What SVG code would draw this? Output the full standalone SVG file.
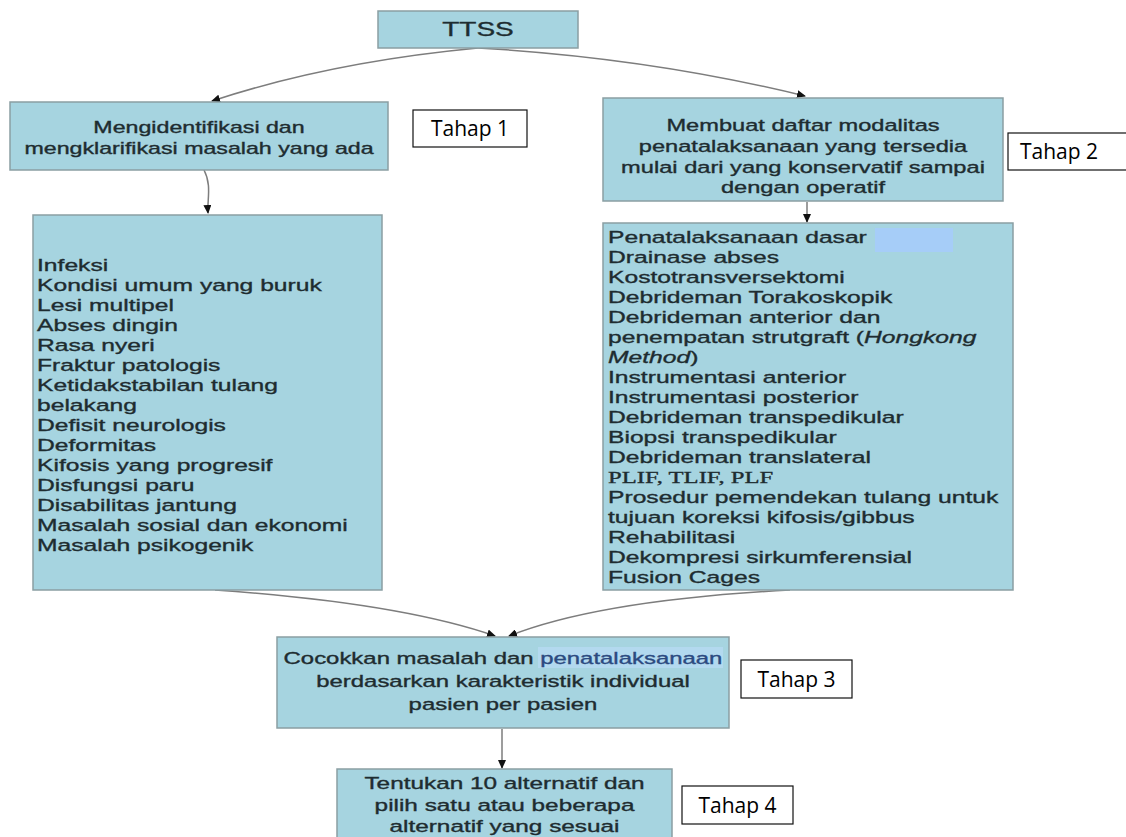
<svg xmlns="http://www.w3.org/2000/svg" width="1126" height="837" viewBox="0 0 1126 837">
<style>
.box{fill:#a6d4e0;stroke:#8a9ea3;stroke-width:1.5}
.t{font-family:"Liberation Sans",Arial,sans-serif;fill:#1e2c30;stroke:#1e2c30;stroke-width:0.35}
.tag{fill:#fff;stroke:#111;stroke-width:1.2}
.tagt{font-family:"Open Sans","Liberation Sans",sans-serif;font-size:21px;fill:#000}
.conn{fill:none;stroke:#7d7d7d;stroke-width:1.5;marker-end:url(#ah)}
</style>
<defs>
<marker id="ah" markerUnits="userSpaceOnUse" markerWidth="9" markerHeight="8" refX="8" refY="4" orient="auto">
<path d="M0,0 L9,4 L0,8 z" fill="#111"/>
</marker>
</defs>
<rect width="1126" height="837" fill="#fff"/>
<g id="connectors">
<path class="conn" d="M478,48 Q330,62 212,101"/>
<path class="conn" d="M478,48 Q650,58 805,96"/>
<path class="conn" d="M204,170 C212,185 207,200 208,213"/>
<path class="conn" d="M807,202 L807,222"/>
<path class="conn" d="M215,590 Q400,603 495,636"/>
<path class="conn" d="M790,590 Q600,600 509,636"/>
<path class="conn" d="M502,729 L502,768"/>
</g>
<g id="ttss">
<rect class="box" x="378" y="11" width="200" height="37"/>
<text class="t" font-size="20" text-anchor="middle" transform="translate(478,0) scale(1.4,1)" x="0" y="36">TTSS</text>
</g>
<g id="step1">
<rect class="box" x="10" y="102" width="378" height="68"/>
<text class="t" font-size="16" text-anchor="middle" transform="translate(199,0) scale(1.45,1)"><tspan x="0" y="133">Mengidentifikasi dan</tspan><tspan x="0" y="154">mengklarifikasi masalah yang ada</tspan></text>
</g>
<g id="tahap1">
<rect class="tag" x="413" y="110" width="114" height="37"/>
<text class="tagt" x="470" y="136" text-anchor="middle">Tahap 1</text>
</g>
<g id="step2">
<rect class="box" x="603" y="98" width="400" height="103"/>
<text class="t" font-size="16.3" text-anchor="middle" transform="translate(803,0) scale(1.45,1)"><tspan x="0" y="131">Membuat daftar modalitas</tspan><tspan x="0" y="152">penatalaksanaan yang tersedia</tspan><tspan x="0" y="173">mulai dari yang konservatif sampai</tspan><tspan x="0" y="193">dengan operatif</tspan></text>
</g>
<g id="tahap2">
<rect class="tag" x="1008" y="133" width="130" height="37"/>
<text class="tagt" x="1020" y="159">Tahap 2</text>
</g>
<g id="problems">
<rect class="box" x="33" y="215" width="349" height="375"/>
<text class="t" font-size="17" transform="translate(37,0) scale(1.45,1)">
<tspan x="0" y="271">Infeksi</tspan>
<tspan x="0" y="291">Kondisi umum yang buruk</tspan>
<tspan x="0" y="311">Lesi multipel</tspan>
<tspan x="0" y="331">Abses dingin</tspan>
<tspan x="0" y="351">Rasa nyeri</tspan>
<tspan x="0" y="371">Fraktur patologis</tspan>
<tspan x="0" y="391">Ketidakstabilan tulang</tspan>
<tspan x="0" y="411">belakang</tspan>
<tspan x="0" y="431">Defisit neurologis</tspan>
<tspan x="0" y="451">Deformitas</tspan>
<tspan x="0" y="471">Kifosis yang progresif</tspan>
<tspan x="0" y="491">Disfungsi paru</tspan>
<tspan x="0" y="511">Disabilitas jantung</tspan>
<tspan x="0" y="531">Masalah sosial dan ekonomi</tspan>
<tspan x="0" y="551">Masalah psikogenik</tspan>
</text>
</g>
<g id="modalities">
<rect class="box" x="603" y="223" width="410" height="367"/>
<rect x="875" y="228" width="78" height="24" fill="#a6cdf8"/>
<text class="t" font-size="17" transform="translate(608,0) scale(1.45,1)">
<tspan x="0" y="243">Penatalaksanaan dasar</tspan>
<tspan x="0" y="263">Drainase abses</tspan>
<tspan x="0" y="283">Kostotransversektomi</tspan>
<tspan x="0" y="303">Debrideman Torakoskopik</tspan>
<tspan x="0" y="323">Debrideman anterior dan</tspan>
<tspan x="0" y="343">penempatan strutgraft (<tspan font-style="italic">Hongkong</tspan></tspan>
<tspan x="0" y="363"><tspan font-style="italic">Method</tspan>)</tspan>
<tspan x="0" y="383">Instrumentasi anterior</tspan>
<tspan x="0" y="403">Instrumentasi posterior</tspan>
<tspan x="0" y="423">Debrideman transpedikular</tspan>
<tspan x="0" y="443">Biopsi transpedikular</tspan>
<tspan x="0" y="463">Debrideman translateral</tspan>
<tspan x="0" y="483" font-family="'Liberation Serif','Times New Roman',serif">PLIF, TLIF, PLF</tspan>
<tspan x="0" y="503">Prosedur pemendekan tulang untuk</tspan>
<tspan x="0" y="523">tujuan koreksi kifosis/gibbus</tspan>
<tspan x="0" y="543">Rehabilitasi</tspan>
<tspan x="0" y="563">Dekompresi sirkumferensial</tspan>
<tspan x="0" y="583">Fusion Cages</tspan>
</text>
</g>
<g id="step3">
<rect class="box" x="277" y="637" width="452" height="91"/>
<rect x="538" y="647" width="185" height="21" fill="#b3d9ef"/>
<text class="t" font-size="16.5" text-anchor="middle" transform="translate(503,0) scale(1.45,1)"><tspan x="0" y="664">Cocokkan masalah dan <tspan fill="#2b4a80" stroke="#2b4a80">penatalaksanaan</tspan></tspan><tspan x="0" y="687">berdasarkan karakteristik individual</tspan><tspan x="0" y="710">pasien per pasien</tspan></text>
</g>
<g id="tahap3">
<rect class="tag" x="741" y="660" width="111" height="38"/>
<text class="tagt" x="796.5" y="687" text-anchor="middle">Tahap 3</text>
</g>
<g id="step4">
<rect class="box" x="337" y="769" width="335" height="80"/>
<text class="t" font-size="16.8" text-anchor="middle" transform="translate(504.5,0) scale(1.45,1)"><tspan x="0" y="789">Tentukan 10 alternatif dan</tspan><tspan x="0" y="811">pilih satu atau beberapa</tspan><tspan x="0" y="832">alternatif yang sesuai</tspan></text>
</g>
<g id="tahap4">
<rect class="tag" x="682" y="786" width="111" height="38"/>
<text class="tagt" x="737.5" y="813" text-anchor="middle">Tahap 4</text>
</g>
</svg>
